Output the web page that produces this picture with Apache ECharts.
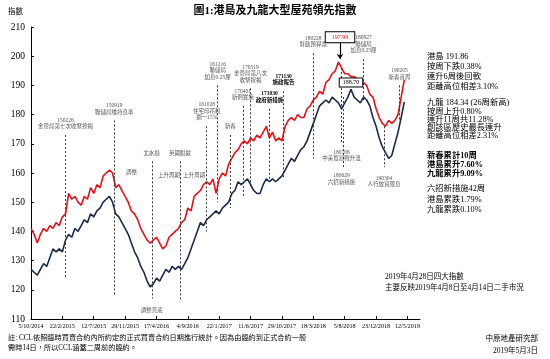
<!DOCTYPE html>
<html><head><meta charset="utf-8">
<script src="https://cdn.jsdelivr.net/npm/echarts@6/dist/echarts.min.js"></script>
<style>html,body{margin:0;padding:0;background:#fff}#c{width:550px;height:359px}</style>
</head><body><div id="c"></div>
<script>
const tickLabels = ['5/10/2014','22/2/2015','12/7/2015','29/11/2015','17/4/2016','4/9/2016','22/1/2017','11/6/2017','29/10/2017','18/3/2018','5/8/2018','23/12/2018','12/5/2019'];
const weeks = [0,2,4,6,8,10,12,14,16,18,20,22,24,26,28,30,32,34,36,38,40,42,44,46,48,50,52,54,56,58,60,62,64,66,68,70,72,74,76,78,80,82,84,86,88,90,92,94,96,98,100,102,104,106,108,110,112,114,116,118,120,122,124,126,128,130,132,134,136,138,140,142,144,146,148,150,152,154,156,158,160,162,164,166,168,170,172,174,176,178,180,182,184,186,188,190,192,194,196,198,200,202,204,206,208,210,212,214,216,218,220,222,224,226,228,230,232,234,236,238];
const hkIsland = [141,139,136,139,141,140,142,141,143,142,
145,146,153,151,152,150,149,152,151,155,
153,156,155,159,160,161,160,155,156,154,
152,150,147,146,144,141,139,137,136,137,
138,136,134,135,138,139,140,141,143,144,
148,147,152,153,154,156,157,156,158,153,
158,160,159,163,165,167,168,170,171,170,
172,171,173,172,174,176,172,174,171,172,
171,176,178,179,178,180,179,179,182,183,
185,186,188,187,191,192,194,195,198,196,
194,194,193,193,192,192,191,190,187,186,
182,179,177,176,178,177,178,180,186,191.86];
const kowloon = [127,126,125,127,129,128,131,134,133,134,
133,137,139,138,141,140,142,144,143,146,
145,147,148,150,151,152,150,146,145,143,
141,139,136,133,131,128,126,123,121,122,
124,123,125,127,126,128,127,128,127,129,
131,134,137,140,143,142,144,145,146,147,
146,148,149,150,153,154,157,156,157,158,
156,154,153,153,156,158,157,158,157,158,
159,161,163,165,164,166,168,169,171,174,
177,180,183,184,185,184,186,185,184,182,
184,186,188.7,186,185,184,186,185,183,179,
176,172,169,167,165,166,170,174,179,184.34];

// annotations: [week, label value, line end value, text, bold]
const notes = [
 [22,173,124,'150226\n金管局第七次收緊按揭',false],
 [53,178,118,'150919\n聯儲局維持息率',false],
 [77,164,117,'北水退',false],
 [95,164,116,'英國脫歐',false],
 [112,176,140,'161028\n住宅印花稅\n劃一15%',false],
 [119,190,150,'161216\n聯儲局\n加息0.25厘',false],
 [127,173,148,'新春',false],
 [135,183,152,'170401\n新例實施',false],
 [140,189,155,'170519\n金管局第八次\n收緊按揭',false],
 [152,182,157,'171030\n政府新措施',true],
 [161,188,158,'171130\n施政報告',true],
 [180,201,165,'180228\n財政預算案',false],
 [212,199,185,'180927\n聯儲局\n加息0.25厘',false],
 [235,190,178,'190205\n新春首周',false]
];
const lowNotes = [
 [77,113,'調整見底'],
 [198,166,'180706\n中美貿易戰升溫'],
 [198,158,'180629\n六招新措施'],
 [225,157,'190304\n人行放寬限息']
];
const lowLines = [[198,196,170],[199,186,162],[225,176,162]];
const textNotes = [[64,160,'調整'],[88,159,'上升周期'],[104,159,'上升周期']];

const CJK = '"Liberation Serif","Noto Sans CJK TC",serif';
const chart = echarts.init(document.getElementById('c'));

const mlData = [];
notes.forEach(n => mlData.push([{coord:[n[0],n[1]],label:{show:true,position:'start',formatter:n[3],fontSize:5.5,lineHeight:6.5,color:n[4]?'#000':'#555',fontWeight:n[4]?'bold':'normal',fontFamily:CJK}},{coord:[n[0],n[2]]}]));
lowLines.forEach(n => mlData.push([{coord:[n[0],n[1]]},{coord:[n[0],n[2]]}]));

const mpData = [];
lowNotes.forEach(n => mpData.push({coord:[n[0],n[1]],label:{formatter:n[2]}}));
textNotes.forEach(n => mpData.push({coord:[n[0],n[1]],label:{formatter:n[2]}}));

const rightText = [
 ['港島 191.86',58,false],['按周下跌0.38%',68,false],['連升6周後回軟',78,false],['距離高位相差3.10%',88,false],
 ['九龍 184.34 (26周新高)',104,false],['按周上升0.80%',113,false],['連升11周共11.28%',121,false],['創該區歷史最長連升',129,false],['距離高位相差2.31%',137,false],
 ['新春累計10周',157,true],['港島累升7.60%',166,true],['九龍累升9.09%',175,true],
 ['六招新措施42周',190,false],['港島累跌1.79%',201,false],['九龍累跌0.10%',211,false]
];
const graphics = rightText.map(t => ({type:'text',left:427,top:t[1]-5,style:{text:t[0],fontSize:8.3,fontWeight:t[2]?'bold':'normal',fill:'#000',fontFamily:CJK}}));
graphics.push(
 {type:'text',left:'center',top:6,style:{text:'圖1:港島及九龍大型屋苑領先指數',fontSize:11,fontWeight:'bold',fill:'#000',fontFamily:CJK}},
 {type:'text',left:8,top:8,style:{text:'指數',fontSize:7.5,fill:'#000',fontFamily:CJK}},
 {type:'text',left:385,top:273,style:{text:'2019年4月28日四大指數',fontSize:7.5,fill:'#000',fontFamily:CJK}},
 {type:'text',left:385,top:284,style:{text:'主要反映2019年4月8日至4月14日二手市況',fontSize:7.5,fill:'#000',fontFamily:CJK}},
 {type:'text',left:8,top:335,style:{text:'註: CCL依照臨時買賣合約內所約定的正式買賣合約日期進行統計。因為由臨約到正式合約一般',fontSize:7.2,fill:'#000',fontFamily:CJK}},
 {type:'text',left:8,top:345,style:{text:'需時14日，所以CCL涵蓋二周前的臨約。',fontSize:7.2,fill:'#000',fontFamily:CJK}},
 {type:'text',right:12,top:335,style:{text:'中原地產研究部',fontSize:7.5,fill:'#000',fontFamily:CJK}},
 {type:'text',right:12,top:347,style:{text:'2019年5月3日',fontSize:7.5,fill:'#000',fontFamily:CJK}}
);

const tickVals = tickLabels.map((t,i)=>i*20);
chart.setOption({
 animation:false,
 backgroundColor:'#fff',
 grid:{left:31,right:130,top:27,bottom:40},
 xAxis:{type:'value',min:0,max:248,interval:20,
  axisLine:{lineStyle:{color:'#000',width:1}},
  axisTick:{inside:true,length:3,lineStyle:{color:'#000'},customValues:tickVals},
  axisLabel:{fontSize:6.2,color:'#000',fontFamily:'"Liberation Serif",serif',margin:4,customValues:tickVals,formatter:v=>tickLabels[v/20]||''},
  splitLine:{show:false}},
 yAxis:{type:'value',min:110,max:210,interval:10,
  axisLine:{show:true,lineStyle:{color:'#000',width:1}},
  axisTick:{show:true,inside:true,length:3,lineStyle:{color:'#000'}},
  axisLabel:{fontSize:9.5,color:'#000',fontFamily:'"Liberation Serif",serif',margin:6},
  splitLine:{show:false}},
 graphic:graphics,
 series:[
  {type:'line',name:'港島',data:weeks.map((w,i)=>[w,hkIsland[i]]),showSymbol:false,symbol:'none',lineStyle:{color:'#e3131b',width:1.6},z:3,
   markLine:{silent:true,symbol:['none','none'],lineStyle:{type:[2,2],color:'#333',width:1},label:{show:false},data:mlData},
   markPoint:{symbol:'circle',symbolSize:0,label:{show:true,position:'inside',fontSize:5.5,lineHeight:6.5,color:'#555',fontFamily:CJK},data:mpData}
  },
  {type:'line',name:'九龍',data:weeks.map((w,i)=>[w,kowloon[i]]),showSymbol:false,symbol:'none',lineStyle:{color:'#1c2a44',width:1.6},z:3,
   markLine:{silent:true,symbol:['none','arrow'],symbolSize:5,lineStyle:{type:'solid',color:'#000',width:1.2},label:{show:false},data:[[{coord:[197,204.5]},{coord:[197,199]}]]},
   markPoint:{symbol:'rect',symbolSize:0,data:[
    {coord:[197,206.5],label:{show:true,formatter:'197.99',fontSize:6,color:'#e3131b',borderColor:'#000',borderWidth:1,padding:[2,6],backgroundColor:'#fff',fontFamily:CJK}},
    {coord:[204,191],label:{show:true,formatter:'188.70',fontSize:6,color:'#000',borderColor:'#000',borderWidth:1,padding:[1,3],backgroundColor:'#fff',fontFamily:CJK}}
   ]}
  }
 ]
});
</script></body></html>
